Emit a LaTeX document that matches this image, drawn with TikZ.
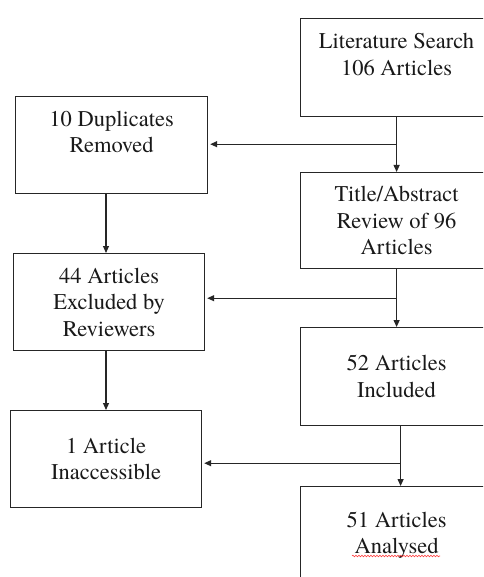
\documentclass[tikz,border=0pt]{standalone}
\usepackage{fontspec}
\setmainfont{texgyretermes-regular.otf}
\usetikzlibrary{arrows.meta,decorations.pathmorphing}
\begin{document}
\begin{tikzpicture}[x=1pt,y=-1pt,
  box/.style={draw=black!85, line width=1.2pt, anchor=north west, align=center, inner sep=0pt,
    font=\fontsize{22.5}{26.5}\selectfont, text=black!90},
  arr/.style={draw=black!85, line width=1.1pt, -{Triangle[length=7pt,width=6pt]}},
  squig/.style={draw=red!75, line width=0.6pt, decorate, decoration={snake, amplitude=0.8pt, segment length=3pt}}]
\useasboundingbox (0,0) rectangle (483,577);
\clip (0,0) rectangle (483,577);
\fill[white] (0,0) rectangle (483,577);

\node[box, minimum width=192pt, minimum height=98pt] (lit) at (300,18) {Literature Search\\106 Articles\\\mbox{}};
\node[box, minimum width=192pt, minimum height=97pt] (dup) at (15,96) {10 Duplicates\\Removed\\\mbox{}};
\node[box, minimum width=192pt, minimum height=96pt] (rev) at (300,172) {Title/Abstract\\Review of 96\\Articles};
\node[box, minimum width=191pt, minimum height=97pt] (exc) at (13,253) {44 Articles\\Excluded by\\Reviewers};
\node[box, minimum width=192pt, minimum height=98pt] (inc) at (300,327) {52 Articles\\Included};
\node[box, minimum width=191pt, minimum height=97pt] (ina) at (10,410) {1 Article\\Inaccessible};
\node[box, minimum width=192pt, minimum height=97pt] (ana) at (300,486) {51 Articles\\Analysed};

\coordinate (xl) at (106,0);
\path (lit.south) ++(0,27) coordinate (j1);
\path (rev.south) ++(0,29) coordinate (j2);
\path ([xshift=4pt]inc.south) ++(0,37) coordinate (j3);

\draw[arr] (lit.south) -- (rev.north);
\draw[arr, shorten >=2pt] (j1) -- (dup.east |- j1);
\draw[arr] (rev.south) -- (inc.north);
\draw[arr, shorten >=2pt] (j2) -- (exc.east |- j2);
\draw[arr] ([xshift=4pt]inc.south) -- ([xshift=4pt]ana.north);
\draw[arr, shorten >=2pt] (j3) -- (ina.east |- j3);
\draw[arr] (dup.south -| xl) -- (exc.north -| xl);
\draw[arr] (exc.south -| xl) -- (ina.north -| xl);

\draw[squig] (352,556) -- (440,556);
\end{tikzpicture}
\end{document}
